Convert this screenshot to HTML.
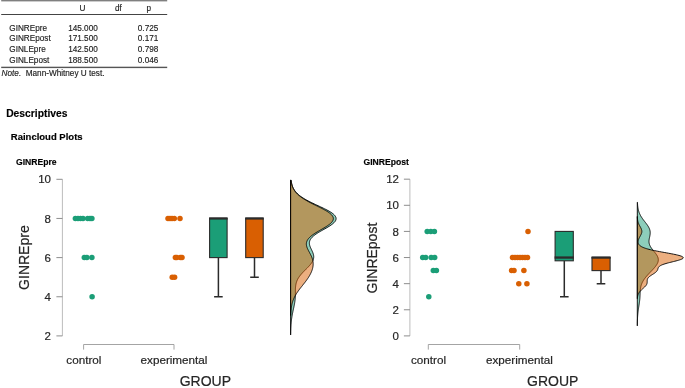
<!DOCTYPE html>
<html><head><meta charset="utf-8"><title>Results</title>
<style>
html,body{margin:0;padding:0;background:#fff;}
body{width:685px;height:388px;overflow:hidden;font-family:"Liberation Sans",sans-serif;}
svg{display:block;position:absolute;left:0;top:0;will-change:transform;opacity:0.999;}
text{font-family:"Liberation Sans",sans-serif;}
</style></head><body>
<svg width="685" height="388" viewBox="0 0 685 388">
<rect width="685" height="388" fill="#fff"/>
<g font-family="Liberation Sans, sans-serif" font-size="8.2" fill="#222" stroke="#222" stroke-width="0.15">
<rect x="1.2" y="0" width="166" height="1.4" fill="#808080" stroke="none"/>
<rect x="1.2" y="14" width="166" height="1" fill="#444" stroke="none"/>
<rect x="1.2" y="66.7" width="166" height="1.4" fill="#555" stroke="none"/>
<text x="82.5" y="10.7" text-anchor="middle">U</text>
<text x="118.3" y="10.7" text-anchor="middle">df</text>
<text x="148.7" y="10.7" text-anchor="middle">p</text>
<text x="9.3" y="30.6">GINREpre</text><text x="68.2" y="30.6">145.000</text><text x="137.8" y="30.6">0.725</text><text x="9.3" y="41.3">GINREpost</text><text x="68.2" y="41.3">171.500</text><text x="137.8" y="41.3">0.171</text><text x="9.3" y="52.0">GINLEpre</text><text x="68.2" y="52.0">142.500</text><text x="137.8" y="52.0">0.798</text><text x="9.3" y="62.7">GINLEpost</text><text x="68.2" y="62.7">188.500</text><text x="137.8" y="62.7">0.046</text>
<text x="1.6" y="75.8"><tspan font-style="italic">Note.</tspan> &#160;Mann-Whitney U test.</text>
</g>
<g font-family="Liberation Sans, sans-serif" font-weight="bold" fill="#000" stroke="#000" stroke-width="0.15">
<text x="6.2" y="117.4" font-size="10.3">Descriptives</text>
<text x="10.8" y="139.8" font-size="9.5">Raincloud Plots</text>
<text x="16.0" y="164.7" font-size="8.6">GINREpre</text>
<text x="363.5" y="164.7" font-size="8.6">GINREpost</text>
</g>
<g font-family="Liberation Sans, sans-serif" fill="#262626" stroke="#262626" stroke-width="0.2">
<path d="M62.4,179.30V335.90" stroke="#bcbcbc" stroke-width="1" fill="none"/>
<path d="M56.4,335.90H62.4" stroke="#808080" stroke-width="0.9" fill="none"/>
<text x="51" y="340.00" font-size="11.5" text-anchor="end">2</text>
<path d="M56.4,296.75H62.4" stroke="#808080" stroke-width="0.9" fill="none"/>
<text x="51" y="300.85" font-size="11.5" text-anchor="end">4</text>
<path d="M56.4,257.60H62.4" stroke="#808080" stroke-width="0.9" fill="none"/>
<text x="51" y="261.70" font-size="11.5" text-anchor="end">6</text>
<path d="M56.4,218.45H62.4" stroke="#808080" stroke-width="0.9" fill="none"/>
<text x="51" y="222.55" font-size="11.5" text-anchor="end">8</text>
<path d="M56.4,179.30H62.4" stroke="#808080" stroke-width="0.9" fill="none"/>
<text x="51" y="183.40" font-size="11.5" text-anchor="end">10</text>
<path d="M83.6,349.6V344.5H174V349.6" stroke="#9a9a9a" stroke-width="0.9" fill="none"/>
<text x="83.9" y="363.5" font-size="11.7" text-anchor="middle">control</text>
<text x="174" y="363.5" font-size="11.7" text-anchor="middle">experimental</text>
<text x="205.3" y="386.2" font-size="14" text-anchor="middle">GROUP</text>
<text transform="translate(28.8,257.6) rotate(-90)" font-size="14" text-anchor="middle">GINREpre</text>
<circle cx="75.4" cy="218.4" r="2.75" fill="#1B9E77" stroke="none"/><circle cx="78.0" cy="218.4" r="2.75" fill="#1B9E77" stroke="none"/><circle cx="80.5" cy="218.4" r="2.75" fill="#1B9E77" stroke="none"/><circle cx="83.0" cy="218.4" r="2.75" fill="#1B9E77" stroke="none"/><circle cx="87.7" cy="218.4" r="2.75" fill="#1B9E77" stroke="none"/><circle cx="90.0" cy="218.4" r="2.75" fill="#1B9E77" stroke="none"/><circle cx="91.9" cy="218.4" r="2.75" fill="#1B9E77" stroke="none"/>
<circle cx="84.3" cy="257.6" r="2.75" fill="#1B9E77" stroke="none"/><circle cx="86.9" cy="257.6" r="2.75" fill="#1B9E77" stroke="none"/><circle cx="91.9" cy="257.6" r="2.75" fill="#1B9E77" stroke="none"/>
<circle cx="92.1" cy="296.8" r="2.75" fill="#1B9E77" stroke="none"/>
<circle cx="168.0" cy="218.4" r="2.75" fill="#D95F02" stroke="none"/><circle cx="170.0" cy="218.4" r="2.75" fill="#D95F02" stroke="none"/><circle cx="172.0" cy="218.4" r="2.75" fill="#D95F02" stroke="none"/><circle cx="174.3" cy="218.4" r="2.75" fill="#D95F02" stroke="none"/><circle cx="180.0" cy="218.4" r="2.75" fill="#D95F02" stroke="none"/>
<circle cx="175.4" cy="257.6" r="2.75" fill="#D95F02" stroke="none"/><circle cx="176.8" cy="257.6" r="2.75" fill="#D95F02" stroke="none"/><circle cx="180.4" cy="257.6" r="2.75" fill="#D95F02" stroke="none"/><circle cx="182.0" cy="257.6" r="2.75" fill="#D95F02" stroke="none"/>
<circle cx="172.2" cy="277.2" r="2.75" fill="#D95F02" stroke="none"/><circle cx="174.6" cy="277.2" r="2.75" fill="#D95F02" stroke="none"/>
<path d="M218.4,257.60V296.75M214.1,296.75H222.7" stroke="#2b2b2b" stroke-width="1.5" fill="none"/><rect x="209.6" y="218.45" width="17.5" height="39.15" fill="#1B9E77" stroke="#2b2b2b" stroke-width="1.1"/><path d="M209.1,218.45H227.6" stroke="#2b2b2b" stroke-width="2.3" fill="none"/>
<path d="M254.5,257.60V277.17M250.2,277.17H258.8" stroke="#2b2b2b" stroke-width="1.5" fill="none"/><rect x="245.7" y="218.45" width="17.5" height="39.15" fill="#D95F02" stroke="#2b2b2b" stroke-width="1.1"/><path d="M245.2,218.45H263.7" stroke="#2b2b2b" stroke-width="2.3" fill="none"/>
<path d="M290.60,334.95 L290.65,334.95 L290.66,334.34 L290.67,333.73 L290.68,333.13 L290.69,332.52 L290.70,331.91 L290.71,331.31 L290.73,330.70 L290.75,330.09 L290.77,329.49 L290.79,328.88 L290.81,328.27 L290.84,327.67 L290.87,327.06 L290.90,326.45 L290.93,325.85 L290.97,325.24 L291.01,324.63 L291.06,324.03 L291.11,323.42 L291.16,322.81 L291.21,322.21 L291.27,321.60 L291.34,320.99 L291.41,320.39 L291.48,319.78 L291.56,319.17 L291.64,318.57 L291.73,317.96 L291.82,317.35 L291.92,316.75 L292.02,316.14 L292.13,315.53 L292.24,314.93 L292.35,314.32 L292.47,313.71 L292.59,313.11 L292.71,312.50 L292.84,311.89 L292.96,311.29 L293.09,310.68 L293.22,310.07 L293.36,309.47 L293.49,308.86 L293.62,308.25 L293.75,307.65 L293.88,307.04 L294.01,306.43 L294.13,305.83 L294.25,305.22 L294.37,304.61 L294.48,304.01 L294.59,303.40 L294.69,302.79 L294.78,302.19 L294.87,301.58 L294.96,300.97 L295.03,300.37 L295.10,299.76 L295.16,299.15 L295.21,298.55 L295.26,297.94 L295.30,297.34 L295.33,296.73 L295.36,296.12 L295.38,295.52 L295.39,294.91 L295.40,294.30 L295.41,293.70 L295.41,293.09 L295.41,292.48 L295.41,291.88 L295.42,291.27 L295.42,290.66 L295.42,290.06 L295.43,289.45 L295.45,288.84 L295.48,288.24 L295.51,287.63 L295.55,287.02 L295.61,286.42 L295.68,285.81 L295.76,285.20 L295.86,284.60 L295.99,283.99 L296.13,283.38 L296.29,282.78 L296.47,282.17 L296.68,281.56 L296.91,280.96 L297.17,280.35 L297.45,279.74 L297.76,279.14 L298.09,278.53 L298.46,277.92 L298.84,277.32 L299.26,276.71 L299.70,276.10 L300.16,275.50 L300.65,274.89 L301.16,274.28 L301.69,273.68 L302.24,273.07 L302.80,272.46 L303.38,271.86 L303.97,271.25 L304.57,270.64 L305.17,270.04 L305.78,269.43 L306.38,268.82 L306.99,268.22 L307.58,267.61 L308.17,267.00 L308.74,266.40 L309.30,265.79 L309.83,265.18 L310.34,264.58 L310.83,263.97 L311.28,263.36 L311.70,262.76 L312.09,262.15 L312.44,261.54 L312.74,260.94 L313.01,260.33 L313.24,259.72 L313.42,259.12 L313.56,258.51 L313.66,257.90 L313.71,257.30 L313.72,256.69 L313.69,256.08 L313.62,255.48 L313.51,254.87 L313.37,254.26 L313.19,253.66 L312.99,253.05 L312.76,252.44 L312.51,251.84 L312.24,251.23 L311.96,250.62 L311.67,250.02 L311.38,249.41 L311.09,248.80 L310.80,248.20 L310.53,247.59 L310.28,246.98 L310.05,246.38 L309.84,245.77 L309.67,245.16 L309.54,244.56 L309.45,243.95 L309.40,243.34 L309.40,242.74 L309.46,242.13 L309.58,241.52 L309.75,240.92 L309.98,240.31 L310.28,239.70 L310.64,239.10 L311.07,238.49 L311.56,237.88 L312.12,237.28 L312.74,236.67 L313.42,236.06 L314.15,235.46 L314.95,234.85 L315.80,234.24 L316.69,233.64 L317.63,233.03 L318.61,232.42 L319.62,231.82 L320.66,231.21 L321.71,230.60 L322.78,230.00 L323.86,229.39 L324.93,228.78 L326.00,228.18 L327.05,227.57 L328.07,226.96 L329.07,226.36 L330.02,225.75 L330.93,225.14 L331.78,224.54 L332.58,223.93 L333.30,223.32 L333.95,222.72 L334.53,222.11 L335.02,221.50 L335.42,220.90 L335.74,220.29 L335.95,219.68 L336.08,219.08 L336.10,218.47 L336.02,217.86 L335.85,217.26 L335.58,216.65 L335.21,216.05 L334.74,215.44 L334.19,214.83 L333.54,214.23 L332.81,213.62 L332.00,213.01 L331.11,212.41 L330.16,211.80 L329.13,211.19 L328.06,210.59 L326.92,209.98 L325.75,209.37 L324.53,208.77 L323.29,208.16 L322.01,207.55 L320.72,206.95 L319.42,206.34 L318.11,205.73 L316.80,205.13 L315.50,204.52 L314.21,203.91 L312.93,203.31 L311.68,202.70 L310.45,202.09 L309.25,201.49 L308.08,200.88 L306.95,200.27 L305.86,199.67 L304.80,199.06 L303.80,198.45 L302.83,197.85 L301.91,197.24 L301.03,196.63 L300.21,196.03 L299.42,195.42 L298.68,194.81 L297.99,194.21 L297.34,193.60 L296.74,192.99 L296.17,192.39 L295.65,191.78 L295.16,191.17 L294.72,190.57 L294.31,189.96 L293.93,189.35 L293.58,188.75 L293.26,188.14 L292.98,187.53 L292.71,186.93 L292.48,186.32 L292.26,185.71 L292.07,185.11 L291.89,184.50 L291.74,183.89 L291.60,183.29 L291.48,182.68 L291.36,182.07 L291.27,181.47 L291.18,180.86 L291.10,180.25 L290.60,180.25Z" fill="#1B9E77" fill-opacity="0.5" stroke="#000" stroke-width="0.9" stroke-linejoin="round"/>
<path d="M290.60,315.40 L290.74,315.40 L290.76,314.87 L290.78,314.34 L290.81,313.81 L290.83,313.28 L290.86,312.75 L290.89,312.22 L290.93,311.69 L290.97,311.16 L291.01,310.63 L291.06,310.10 L291.11,309.57 L291.17,309.04 L291.23,308.51 L291.29,307.98 L291.37,307.45 L291.45,306.92 L291.53,306.39 L291.63,305.86 L291.73,305.33 L291.84,304.80 L291.95,304.27 L292.08,303.74 L292.21,303.21 L292.36,302.68 L292.51,302.15 L292.67,301.62 L292.85,301.09 L293.03,300.56 L293.23,300.03 L293.43,299.50 L293.65,298.97 L293.88,298.44 L294.12,297.91 L294.37,297.38 L294.63,296.85 L294.90,296.32 L295.19,295.79 L295.48,295.26 L295.79,294.73 L296.11,294.20 L296.44,293.67 L296.78,293.14 L297.13,292.61 L297.49,292.08 L297.85,291.55 L298.23,291.02 L298.61,290.49 L299.00,289.96 L299.40,289.43 L299.80,288.90 L300.21,288.37 L300.63,287.84 L301.04,287.31 L301.46,286.78 L301.88,286.25 L302.30,285.72 L302.72,285.19 L303.14,284.66 L303.56,284.13 L303.98,283.60 L304.40,283.07 L304.81,282.54 L305.22,282.01 L305.62,281.48 L306.01,280.95 L306.40,280.42 L306.79,279.89 L307.16,279.36 L307.53,278.83 L307.89,278.30 L308.24,277.77 L308.58,277.24 L308.91,276.70 L309.23,276.17 L309.54,275.64 L309.84,275.11 L310.13,274.58 L310.41,274.05 L310.67,273.52 L310.93,272.99 L311.17,272.46 L311.40,271.93 L311.62,271.40 L311.82,270.87 L312.01,270.34 L312.19,269.81 L312.36,269.28 L312.51,268.75 L312.64,268.22 L312.76,267.69 L312.87,267.16 L312.96,266.63 L313.04,266.10 L313.10,265.57 L313.14,265.04 L313.17,264.51 L313.18,263.98 L313.17,263.45 L313.15,262.92 L313.11,262.39 L313.05,261.86 L312.97,261.33 L312.88,260.80 L312.77,260.27 L312.64,259.74 L312.49,259.21 L312.33,258.68 L312.15,258.15 L311.95,257.62 L311.75,257.09 L311.52,256.56 L311.29,256.03 L311.04,255.50 L310.78,254.97 L310.51,254.44 L310.24,253.91 L309.96,253.38 L309.68,252.85 L309.39,252.32 L309.10,251.79 L308.82,251.26 L308.54,250.73 L308.27,250.20 L308.00,249.67 L307.75,249.14 L307.51,248.61 L307.29,248.08 L307.08,247.55 L306.90,247.02 L306.74,246.49 L306.61,245.96 L306.50,245.43 L306.43,244.90 L306.39,244.37 L306.38,243.84 L306.41,243.31 L306.48,242.78 L306.59,242.25 L306.75,241.72 L306.94,241.19 L307.18,240.66 L307.47,240.13 L307.80,239.60 L308.17,239.07 L308.59,238.54 L309.06,238.00 L309.57,237.47 L310.13,236.94 L310.73,236.41 L311.36,235.88 L312.04,235.35 L312.76,234.82 L313.51,234.29 L314.29,233.76 L315.11,233.23 L315.94,232.70 L316.81,232.17 L317.69,231.64 L318.58,231.11 L319.49,230.58 L320.40,230.05 L321.32,229.52 L322.23,228.99 L323.14,228.46 L324.04,227.93 L324.92,227.40 L325.78,226.87 L326.61,226.34 L327.41,225.81 L328.18,225.28 L328.91,224.75 L329.60,224.22 L330.24,223.69 L330.83,223.16 L331.36,222.63 L331.84,222.10 L332.25,221.57 L332.60,221.04 L332.89,220.51 L333.11,219.98 L333.26,219.45 L333.34,218.92 L333.35,218.39 L333.28,217.86 L333.15,217.33 L332.94,216.80 L332.67,216.27 L332.32,215.74 L331.91,215.21 L331.43,214.68 L330.89,214.15 L330.29,213.62 L329.63,213.09 L328.91,212.56 L328.15,212.03 L327.33,211.50 L326.47,210.97 L325.58,210.44 L324.64,209.91 L323.67,209.38 L322.68,208.85 L321.66,208.32 L320.62,207.79 L319.57,207.26 L318.51,206.73 L317.43,206.20 L316.36,205.67 L315.28,205.14 L314.21,204.61 L313.15,204.08 L312.10,203.55 L311.06,203.02 L310.04,202.49 L309.03,201.96 L308.05,201.43 L307.09,200.90 L306.16,200.37 L305.26,199.84 L304.38,199.31 L303.53,198.77 L302.72,198.24 L301.94,197.71 L301.18,197.18 L300.47,196.65 L299.78,196.12 L299.13,195.59 L298.51,195.06 L297.92,194.53 L297.36,194.00 L296.84,193.47 L296.35,192.94 L295.88,192.41 L295.45,191.88 L295.04,191.35 L294.66,190.82 L294.31,190.29 L293.98,189.76 L293.68,189.23 L293.39,188.70 L293.13,188.17 L292.89,187.64 L292.67,187.11 L292.47,186.58 L292.28,186.05 L292.11,185.52 L291.96,184.99 L291.82,184.46 L291.69,183.93 L291.57,183.40 L291.46,182.87 L291.37,182.34 L291.28,181.81 L291.21,181.28 L291.14,180.75 L291.07,180.22 L290.60,180.22Z" fill="#D95F02" fill-opacity="0.5" stroke="#000" stroke-width="0.9" stroke-linejoin="round"/>
<path d="M409.9,179.18V335.90" stroke="#bcbcbc" stroke-width="1" fill="none"/>
<path d="M403.9,335.90H409.9" stroke="#808080" stroke-width="0.9" fill="none"/>
<text x="399" y="340.00" font-size="11.5" text-anchor="end">0</text>
<path d="M403.9,309.78H409.9" stroke="#808080" stroke-width="0.9" fill="none"/>
<text x="399" y="313.88" font-size="11.5" text-anchor="end">2</text>
<path d="M403.9,283.66H409.9" stroke="#808080" stroke-width="0.9" fill="none"/>
<text x="399" y="287.76" font-size="11.5" text-anchor="end">4</text>
<path d="M403.9,257.54H409.9" stroke="#808080" stroke-width="0.9" fill="none"/>
<text x="399" y="261.64" font-size="11.5" text-anchor="end">6</text>
<path d="M403.9,231.42H409.9" stroke="#808080" stroke-width="0.9" fill="none"/>
<text x="399" y="235.52" font-size="11.5" text-anchor="end">8</text>
<path d="M403.9,205.30H409.9" stroke="#808080" stroke-width="0.9" fill="none"/>
<text x="399" y="209.40" font-size="11.5" text-anchor="end">10</text>
<path d="M403.9,179.18H409.9" stroke="#808080" stroke-width="0.9" fill="none"/>
<text x="399" y="183.28" font-size="11.5" text-anchor="end">12</text>
<path d="M428.3,349.6V344.5H519.7V349.6" stroke="#9a9a9a" stroke-width="0.9" fill="none"/>
<text x="428.5" y="363.5" font-size="11.7" text-anchor="middle">control</text>
<text x="519.4" y="363.5" font-size="11.7" text-anchor="middle">experimental</text>
<text x="552.7" y="386.2" font-size="14" text-anchor="middle">GROUP</text>
<text transform="translate(377.1,258.1) rotate(-90)" font-size="14" text-anchor="middle">GINREpost</text>
<circle cx="427.2" cy="231.4" r="2.75" fill="#1B9E77" stroke="none"/><circle cx="430.8" cy="231.4" r="2.75" fill="#1B9E77" stroke="none"/><circle cx="434.4" cy="231.4" r="2.75" fill="#1B9E77" stroke="none"/>
<circle cx="422.7" cy="257.5" r="2.75" fill="#1B9E77" stroke="none"/><circle cx="425.7" cy="257.5" r="2.75" fill="#1B9E77" stroke="none"/><circle cx="431.2" cy="257.5" r="2.75" fill="#1B9E77" stroke="none"/><circle cx="434.7" cy="257.5" r="2.75" fill="#1B9E77" stroke="none"/>
<circle cx="433.3" cy="270.6" r="2.75" fill="#1B9E77" stroke="none"/><circle cx="436.4" cy="270.6" r="2.75" fill="#1B9E77" stroke="none"/>
<circle cx="428.8" cy="296.7" r="2.75" fill="#1B9E77" stroke="none"/>
<circle cx="528.0" cy="231.4" r="2.75" fill="#D95F02" stroke="none"/>
<circle cx="512.5" cy="257.5" r="2.75" fill="#D95F02" stroke="none"/><circle cx="515.0" cy="257.5" r="2.75" fill="#D95F02" stroke="none"/><circle cx="517.5" cy="257.5" r="2.75" fill="#D95F02" stroke="none"/><circle cx="520.0" cy="257.5" r="2.75" fill="#D95F02" stroke="none"/><circle cx="522.5" cy="257.5" r="2.75" fill="#D95F02" stroke="none"/><circle cx="525.0" cy="257.5" r="2.75" fill="#D95F02" stroke="none"/><circle cx="527.5" cy="257.5" r="2.75" fill="#D95F02" stroke="none"/>
<circle cx="511.6" cy="270.6" r="2.75" fill="#D95F02" stroke="none"/><circle cx="514.0" cy="270.6" r="2.75" fill="#D95F02" stroke="none"/><circle cx="523.9" cy="270.6" r="2.75" fill="#D95F02" stroke="none"/>
<circle cx="518.8" cy="283.7" r="2.75" fill="#D95F02" stroke="none"/><circle cx="526.9" cy="283.7" r="2.75" fill="#D95F02" stroke="none"/>
<path d="M564.3,260.80V296.72M560.0,296.72H568.6" stroke="#2b2b2b" stroke-width="1.5" fill="none"/><rect x="555.1" y="231.42" width="18.2" height="29.38" fill="#1B9E77" stroke="#2b2b2b" stroke-width="1.1"/><path d="M554.6,257.54H573.8" stroke="#2b2b2b" stroke-width="2.3" fill="none"/>
<path d="M601.0,270.60V283.66M596.7,283.66H605.3" stroke="#2b2b2b" stroke-width="1.5" fill="none"/><rect x="592.0" y="257.54" width="18.1" height="13.06" fill="#D95F02" stroke="#2b2b2b" stroke-width="1.1"/><path d="M591.5,257.54H610.6" stroke="#2b2b2b" stroke-width="2.3" fill="none"/>
<path d="M637.30,325.84 L637.33,325.84 L637.33,325.35 L637.34,324.87 L637.34,324.38 L637.35,323.90 L637.36,323.41 L637.36,322.93 L637.37,322.44 L637.38,321.96 L637.40,321.48 L637.41,320.99 L637.42,320.51 L637.44,320.02 L637.46,319.54 L637.48,319.05 L637.50,318.57 L637.52,318.08 L637.54,317.60 L637.57,317.12 L637.60,316.63 L637.63,316.15 L637.67,315.66 L637.71,315.18 L637.75,314.69 L637.79,314.21 L637.83,313.72 L637.88,313.24 L637.93,312.76 L637.99,312.27 L638.04,311.79 L638.10,311.30 L638.16,310.82 L638.23,310.33 L638.29,309.85 L638.36,309.36 L638.43,308.88 L638.50,308.40 L638.58,307.91 L638.65,307.43 L638.73,306.94 L638.80,306.46 L638.88,305.97 L638.96,305.49 L639.03,305.00 L639.11,304.52 L639.18,304.04 L639.25,303.55 L639.33,303.07 L639.39,302.58 L639.46,302.10 L639.52,301.61 L639.58,301.13 L639.64,300.64 L639.70,300.16 L639.75,299.68 L639.79,299.19 L639.84,298.71 L639.88,298.22 L639.91,297.74 L639.94,297.25 L639.97,296.77 L640.00,296.28 L640.02,295.80 L640.05,295.32 L640.07,294.83 L640.09,294.35 L640.10,293.86 L640.12,293.38 L640.14,292.89 L640.16,292.41 L640.19,291.92 L640.21,291.44 L640.24,290.96 L640.28,290.47 L640.32,289.99 L640.37,289.50 L640.42,289.02 L640.48,288.53 L640.56,288.05 L640.64,287.56 L640.73,287.08 L640.84,286.60 L640.96,286.11 L641.09,285.63 L641.23,285.14 L641.39,284.66 L641.56,284.17 L641.75,283.69 L641.95,283.21 L642.17,282.72 L642.41,282.24 L642.66,281.75 L642.92,281.27 L643.21,280.78 L643.50,280.30 L643.81,279.81 L644.14,279.33 L644.48,278.85 L644.84,278.36 L645.21,277.88 L645.59,277.39 L645.98,276.91 L646.38,276.42 L646.80,275.94 L647.22,275.45 L647.66,274.97 L648.10,274.49 L648.55,274.00 L649.00,273.52 L649.46,273.03 L649.92,272.55 L650.39,272.06 L650.85,271.58 L651.32,271.09 L651.78,270.61 L652.24,270.13 L652.70,269.64 L653.15,269.16 L653.59,268.67 L654.02,268.19 L654.44,267.70 L654.85,267.22 L655.25,266.73 L655.62,266.25 L655.98,265.77 L656.32,265.28 L656.64,264.80 L656.94,264.31 L657.21,263.83 L657.45,263.34 L657.67,262.86 L657.86,262.37 L658.01,261.89 L658.14,261.41 L658.23,260.92 L658.29,260.44 L658.32,259.95 L658.31,259.47 L658.27,258.98 L658.19,258.50 L658.08,258.01 L657.94,257.53 L657.77,257.05 L657.56,256.56 L657.33,256.08 L657.07,255.59 L656.78,255.11 L656.47,254.62 L656.14,254.14 L655.79,253.65 L655.43,253.17 L655.05,252.69 L654.66,252.20 L654.27,251.72 L653.87,251.23 L653.47,250.75 L653.08,250.26 L652.69,249.78 L652.30,249.29 L651.93,248.81 L651.58,248.33 L651.24,247.84 L650.92,247.36 L650.62,246.87 L650.34,246.39 L650.09,245.90 L649.86,245.42 L649.66,244.93 L649.49,244.45 L649.34,243.97 L649.23,243.48 L649.13,243.00 L649.07,242.51 L649.03,242.03 L649.01,241.54 L649.02,241.06 L649.04,240.58 L649.09,240.09 L649.15,239.61 L649.22,239.12 L649.31,238.64 L649.40,238.15 L649.50,237.67 L649.61,237.18 L649.71,236.70 L649.81,236.22 L649.90,235.73 L649.99,235.25 L650.07,234.76 L650.13,234.28 L650.18,233.79 L650.21,233.31 L650.22,232.82 L650.21,232.34 L650.18,231.86 L650.13,231.37 L650.05,230.89 L649.95,230.40 L649.82,229.92 L649.67,229.43 L649.50,228.95 L649.30,228.46 L649.08,227.98 L648.84,227.50 L648.58,227.01 L648.30,226.53 L648.00,226.04 L647.68,225.56 L647.35,225.07 L647.01,224.59 L646.65,224.10 L646.29,223.62 L645.92,223.14 L645.55,222.65 L645.17,222.17 L644.79,221.68 L644.42,221.20 L644.04,220.71 L643.67,220.23 L643.31,219.74 L642.95,219.26 L642.60,218.78 L642.26,218.29 L641.93,217.81 L641.61,217.32 L641.30,216.84 L641.01,216.35 L640.73,215.87 L640.46,215.38 L640.21,214.90 L639.97,214.42 L639.74,213.93 L639.53,213.45 L639.33,212.96 L639.14,212.48 L638.97,211.99 L638.81,211.51 L638.66,211.02 L638.52,210.54 L638.40,210.06 L638.28,209.57 L638.18,209.09 L638.08,208.60 L637.99,208.12 L637.91,207.63 L637.84,207.15 L637.78,206.66 L637.72,206.18 L637.67,205.70 L637.62,205.21 L637.58,204.73 L637.55,204.24 L637.51,203.76 L637.48,203.27 L637.46,202.79 L637.44,202.30 L637.30,202.30Z" fill="#1B9E77" fill-opacity="0.5" stroke="#000" stroke-width="0.9" stroke-linejoin="round"/>
<path d="M637.30,298.59 L637.40,298.59 L637.42,298.27 L637.45,297.95 L637.48,297.63 L637.51,297.30 L637.55,296.98 L637.60,296.66 L637.65,296.34 L637.72,296.02 L637.79,295.69 L637.87,295.37 L637.96,295.05 L638.07,294.73 L638.18,294.41 L638.31,294.08 L638.46,293.76 L638.62,293.44 L638.79,293.12 L638.98,292.80 L639.19,292.47 L639.42,292.15 L639.66,291.83 L639.92,291.51 L640.20,291.19 L640.49,290.86 L640.80,290.54 L641.12,290.22 L641.45,289.90 L641.79,289.58 L642.14,289.25 L642.50,288.93 L642.86,288.61 L643.22,288.29 L643.58,287.97 L643.94,287.64 L644.29,287.32 L644.63,287.00 L644.95,286.68 L645.26,286.36 L645.55,286.03 L645.82,285.71 L646.07,285.39 L646.29,285.07 L646.48,284.75 L646.66,284.42 L646.80,284.10 L646.92,283.78 L647.02,283.46 L647.09,283.14 L647.14,282.82 L647.18,282.49 L647.20,282.17 L647.21,281.85 L647.21,281.53 L647.22,281.21 L647.22,280.88 L647.23,280.56 L647.25,280.24 L647.29,279.92 L647.35,279.60 L647.44,279.27 L647.55,278.95 L647.70,278.63 L647.87,278.31 L648.09,277.99 L648.34,277.66 L648.63,277.34 L648.95,277.02 L649.31,276.70 L649.71,276.38 L650.13,276.05 L650.58,275.73 L651.05,275.41 L651.54,275.09 L652.04,274.77 L652.55,274.44 L653.06,274.12 L653.56,273.80 L654.05,273.48 L654.52,273.16 L654.97,272.83 L655.40,272.51 L655.79,272.19 L656.15,271.87 L656.47,271.55 L656.75,271.22 L657.00,270.90 L657.21,270.58 L657.39,270.26 L657.54,269.94 L657.67,269.61 L657.78,269.29 L657.87,268.97 L657.97,268.65 L658.07,268.33 L658.19,268.00 L658.34,267.68 L658.51,267.36 L658.74,267.04 L659.02,266.72 L659.36,266.39 L659.77,266.07 L660.25,265.75 L660.82,265.43 L661.48,265.11 L662.22,264.78 L663.05,264.46 L663.97,264.14 L664.97,263.82 L666.04,263.50 L667.18,263.17 L668.39,262.85 L669.64,262.53 L670.92,262.21 L672.22,261.89 L673.53,261.56 L674.82,261.24 L676.08,260.92 L677.29,260.60 L678.44,260.28 L679.50,259.95 L680.45,259.63 L681.29,259.31 L682.00,258.99 L682.57,258.67 L682.98,258.34 L683.22,258.02 L683.30,257.70 L683.20,257.38 L682.93,257.06 L682.48,256.74 L681.86,256.41 L681.07,256.09 L680.12,255.77 L679.03,255.45 L677.80,255.13 L676.44,254.80 L674.98,254.48 L673.42,254.16 L671.78,253.84 L670.08,253.52 L668.34,253.19 L666.57,252.87 L664.78,252.55 L663.00,252.23 L661.23,251.91 L659.49,251.58 L657.80,251.26 L656.15,250.94 L654.56,250.62 L653.05,250.30 L651.60,249.97 L650.24,249.65 L648.95,249.33 L647.75,249.01 L646.64,248.69 L645.61,248.36 L644.67,248.04 L643.80,247.72 L643.02,247.40 L642.31,247.08 L641.68,246.75 L641.11,246.43 L640.61,246.11 L640.17,245.79 L639.78,245.47 L639.44,245.14 L639.16,244.82 L638.91,244.50 L638.71,244.18 L638.54,243.86 L638.40,243.53 L638.29,243.21 L638.22,242.89 L638.16,242.57 L638.13,242.25 L638.12,241.92 L638.13,241.60 L638.16,241.28 L638.20,240.96 L638.26,240.64 L638.33,240.31 L638.42,239.99 L638.52,239.67 L638.63,239.35 L638.76,239.03 L638.89,238.70 L639.03,238.38 L639.19,238.06 L639.34,237.74 L639.51,237.42 L639.68,237.09 L639.85,236.77 L640.03,236.45 L640.21,236.13 L640.38,235.81 L640.55,235.48 L640.72,235.16 L640.89,234.84 L641.04,234.52 L641.19,234.20 L641.32,233.87 L641.44,233.55 L641.55,233.23 L641.64,232.91 L641.72,232.59 L641.77,232.26 L641.81,231.94 L641.84,231.62 L641.84,231.30 L641.82,230.98 L641.79,230.66 L641.73,230.33 L641.66,230.01 L641.57,229.69 L641.47,229.37 L641.35,229.05 L641.22,228.72 L641.08,228.40 L640.92,228.08 L640.76,227.76 L640.59,227.44 L640.42,227.11 L640.25,226.79 L640.07,226.47 L639.89,226.15 L639.71,225.83 L639.54,225.50 L639.37,225.18 L639.20,224.86 L639.04,224.54 L638.89,224.22 L638.75,223.89 L638.61,223.57 L638.48,223.25 L638.36,222.93 L638.25,222.61 L638.14,222.28 L638.05,221.96 L637.96,221.64 L637.88,221.32 L637.81,221.00 L637.74,220.67 L637.68,220.35 L637.63,220.03 L637.58,219.71 L637.54,219.39 L637.51,219.06 L637.48,218.74 L637.45,218.42 L637.43,218.10 L637.41,217.78 L637.39,217.45 L637.37,217.13 L637.36,216.81 L637.35,216.49 L637.30,216.49Z" fill="#D95F02" fill-opacity="0.5" stroke="#000" stroke-width="0.9" stroke-linejoin="round"/>
</g>
</svg>
</body></html>
